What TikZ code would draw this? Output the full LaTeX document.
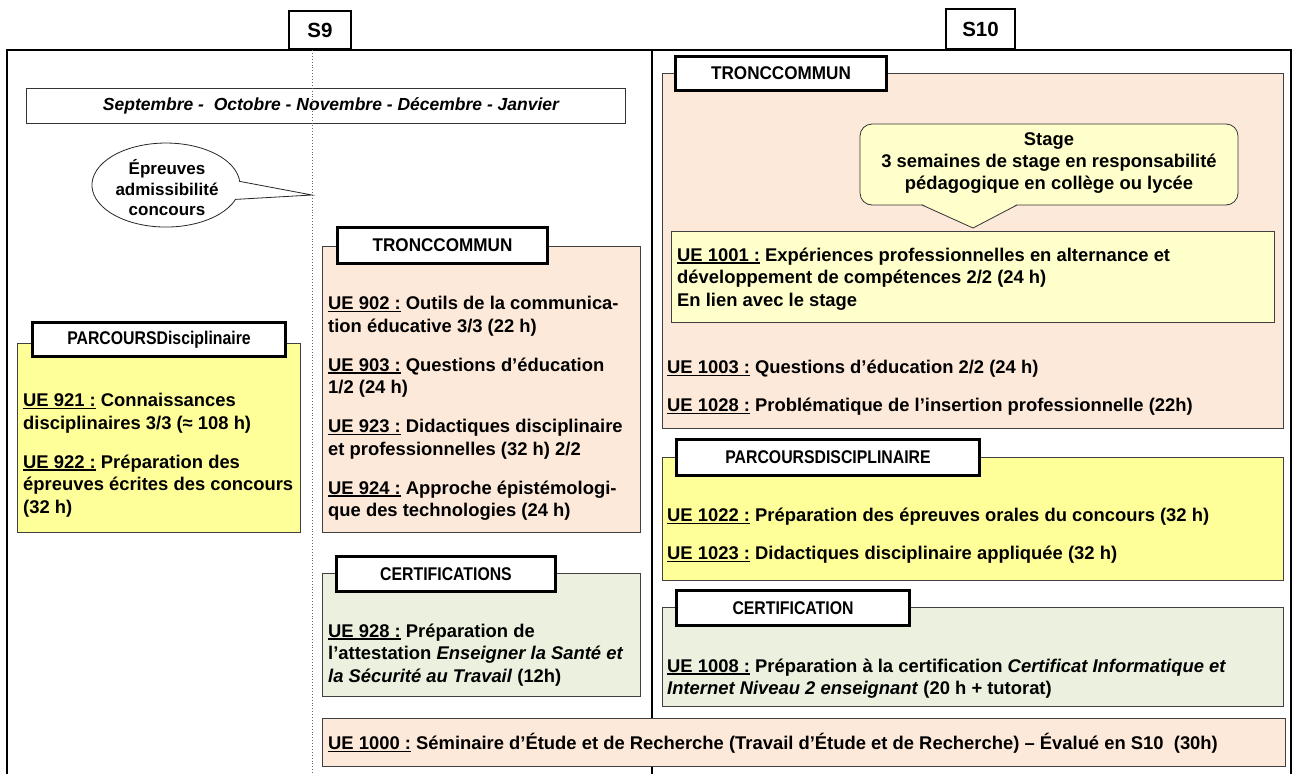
\documentclass[tikz,border=0pt]{standalone}
\usepackage{fontspec}
\setmainfont{Liberation Sans}
\newfontfamily\tabfont[FakeStretch=0.86]{Liberation Sans}
\newfontfamily\tabwidefont[FakeStretch=0.93]{Liberation Sans}
\usetikzlibrary{positioning}
\definecolor{peach}{RGB}{253,233,217}
\definecolor{lemon}{RGB}{255,255,153}
\definecolor{sage}{RGB}{235,241,222}
\definecolor{cream}{RGB}{255,255,204}
\newsavebox{\uebox}
\newcommand{\ue}[1]{\sbox{\uebox}{UE~#1~:}\rlap{\rule[-2.6pt]{\wd\uebox}{1.3pt}}\usebox{\uebox}}
\tikzset{
  txt/.style={font=\bfseries\fontsize{18.4}{22.5}\selectfont, align=left, anchor=base west, inner sep=0pt},
  tabbox/.style={draw=black, line width=2.8pt, fill=white, inner sep=0pt,
    font=\tabfont\bfseries\fontsize{18.4}{22}\selectfont},
  zone/.style={draw=black!75, line width=0.8pt},
  semester/.style={draw=black, line width=2pt, fill=white, inner sep=0pt,
    font=\bfseries\fontsize{20.5}{24}\selectfont},
}

\begin{document}
\begin{tikzpicture}[x=1pt,y=-1pt]
\useasboundingbox (0,0) rectangle (1295,774);
% frame and separators
\draw[line width=2pt] (7,774) -- (7,50) -- (1291,50) -- (1291,774);
\draw[line width=2pt] (652,50) -- (652,774);
\node[semester, minimum width=62pt, minimum height=38pt] (snine) at (320,30) {S9};
\node[semester, minimum width=69pt, minimum height=40pt] (sten) at (980.5,29) {S10};

\node[draw=black!80, line width=0.8pt, minimum width=599pt, minimum height=35pt, inner sep=0pt,
  font=\bfseries\itshape\fontsize{17.5}{21}\selectfont] (months) at (326,106)
  {\hspace{10pt}Septembre -\ \ Octobre - Novembre - Décembre - Janvier};
\draw[black!60, dotted, line width=0.9pt] (312,50) -- (312,774);

% callout S9
\draw[black!85, line width=0.8pt, fill=white] (312,195) -- (235.5,199.4)
  arc[start angle=20, end angle=355, x radius=74, y radius=42] -- cycle;
\node[font=\bfseries\fontsize{17}{20.5}\selectfont, align=center] (epreuves) at (167,188)
  {Épreuves\\admissibilité\\concours};

%%% S9
\draw[zone, fill=peach] (322,246) rectangle (640,532);
\node[tabbox, minimum width=210pt, minimum height=36pt, font=\tabwidefont\bfseries\fontsize{18.4}{22}\selectfont]
  (tcnine) at (442.5,245.5) {TRONCCOMMUN};
\node[txt] (uetcnine) at (328,516.5) {\ue{902} Outils de la communica-\\tion éducative 3/3 (22 h)\\[16.5pt]
  \ue{903} Questions d’éducation\\1/2 (24 h)\\[16.5pt]
  \ue{923} Didactiques disciplinaire\\et professionnelles (32 h) 2/2\\[16.5pt]
  \ue{924} Approche épistémologi-\\que des technologies (24 h)};

\draw[zone, fill=lemon] (17,343) rectangle (300,532);
\node[tabbox, minimum width=253pt, minimum height=34pt] (pdnine) at (159,339.5) {PARCOURSDisciplinaire};
\node[txt] (uepdnine) at (23,513) {\ue{921} Connaissances\\disciplinaires 3/3 (≈ 108 h)\\[16.5pt]
  \ue{922} Préparation des\\épreuves écrites des concours\\(32 h)};

\draw[zone, fill=sage] (322,573) rectangle (640,696);
\node[tabbox, minimum width=219pt, minimum height=35pt] (certnine) at (446,574) {CERTIFICATIONS};
\node[txt] (uecertnine) at (328,682) {\ue{928} Préparation de\\l’attestation \textit{Enseigner la Santé et}\\
  \textit{la Sécurité au Travail} (12h)};

\draw[zone, fill=peach] (322,718) rectangle (1285,766);
\node[txt] (ueser) at (328,749.5) {\ue{1000} Séminaire d’Étude et de Recherche (Travail d’Étude et de Recherche) – Évalué en S10\ \ (30h)};

%%% S10
\draw[zone, fill=peach] (662,73) rectangle (1283,428);
\node[tabbox, minimum width=211pt, minimum height=34pt, font=\tabwidefont\bfseries\fontsize{18.4}{22}\selectfont]
  (tcten) at (781,73.5) {TRONCCOMMUN};

\draw[black!80, line width=0.8pt, fill=cream, rounded corners=12pt] (860,124) rectangle (1238,205);
\fill[cream] (922,204) -- (1017,204) -- (973,228) -- cycle;
\draw[black!80, line width=0.8pt] (922,205) -- (973,228) -- (1017,205);
\node[font=\bfseries\fontsize{18.4}{22}\selectfont, align=center] (stage) at (1049,163)
  {Stage\\3 semaines de stage en responsabilité\\pédagogique en collège ou lycée};

\draw[zone, fill=cream] (671,231) rectangle (1274,322);
\node[txt] (uestage) at (677,306) {\ue{1001} Expériences professionnelles en alternance et\\
  développement de compétences 2/2 (24 h)\\En lien avec le stage};
\node[txt] (uetcten) at (667,411.5) {\ue{1003} Questions d’éducation 2/2 (24 h)\\[15.5pt]
  \ue{1028} Problématique de l’insertion professionnelle (22h)};

\draw[zone, fill=lemon] (662,457) rectangle (1283,580);
\node[tabbox, minimum width=303pt, minimum height=36pt] (pdten) at (828,457.5) {PARCOURSDISCIPLINAIRE};
\node[txt] (uepdten) at (667,559.5) {\ue{1022} Préparation des épreuves orales du concours (32 h)\\[15.5pt]
  \ue{1023} Didactiques disciplinaire appliquée (32 h)};

\draw[zone, fill=sage] (662,607) rectangle (1283,706);
\node[tabbox, minimum width=233pt, minimum height=35pt] (certten) at (793,608) {CERTIFICATION};
\node[txt] (uecertten) at (667,694.5) {\ue{1008} Préparation à la certification \textit{Certificat Informatique et}\\
  \textit{Internet Niveau 2 enseignant} (20 h + tutorat)};

\end{tikzpicture}
\end{document}
